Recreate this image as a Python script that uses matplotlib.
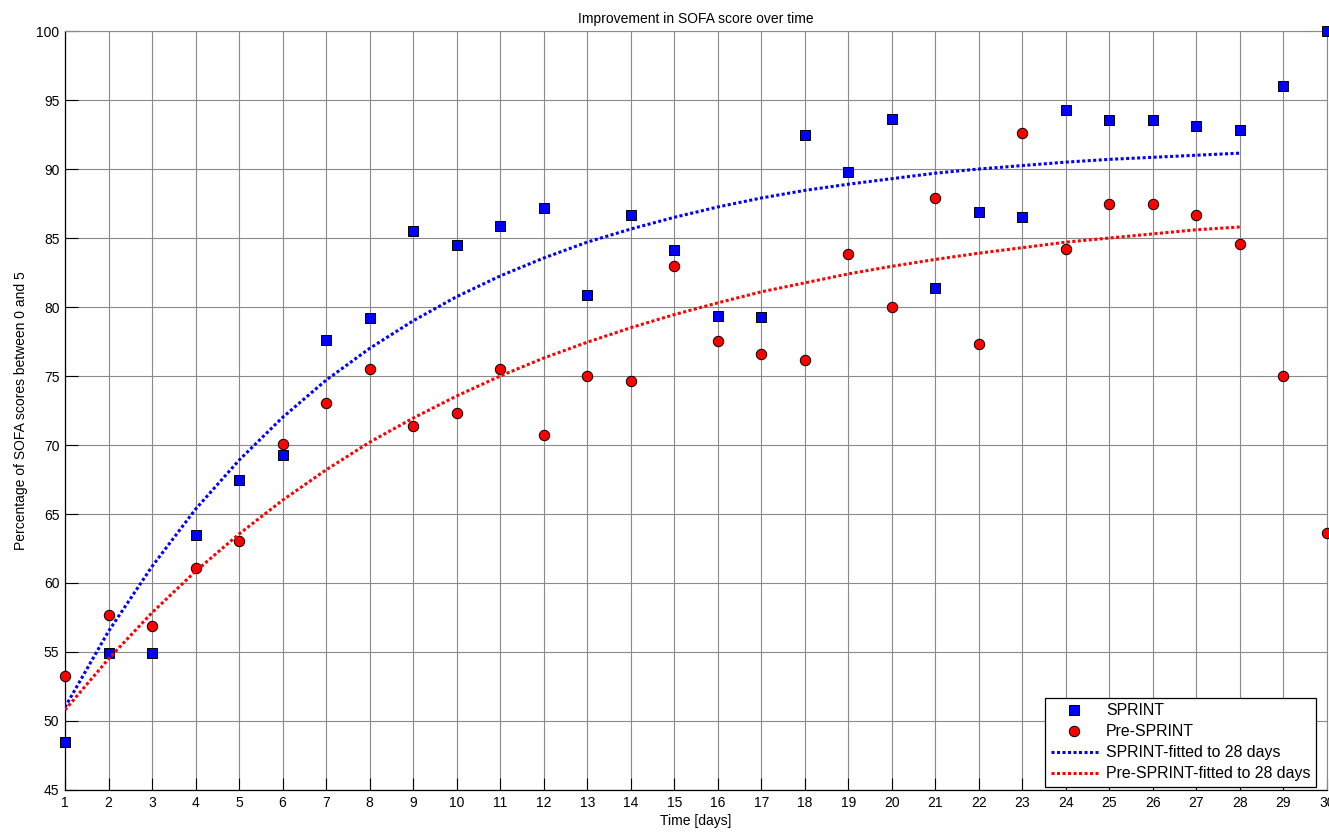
import numpy as np
import matplotlib.pyplot as plt

days = list(range(1, 31))
sprint = [48.5, 54.9, 54.9, 63.5, 67.5, 69.3, 77.6, 79.2, 85.5, 84.5,
          85.85, 87.2, 80.9, 86.7, 84.1, 79.35, 79.3, 92.5, 89.8, 93.65,
          81.4, 86.85, 86.5, 94.3, 93.55, 93.55, 93.15, 92.85, 96.0, 100.0]
pre_sprint = [53.25, 57.65, 56.85, 61.1, 63.05, 70.05, 73.05, 75.5, 71.35, 72.35,
              75.5, 70.75, 75.0, 74.65, 83.0, 77.55, 76.6, 76.15, 83.85, 80.0,
              87.9, 77.35, 92.6, 84.2, 87.5, 87.5, 86.7, 84.6, 75.0, 63.6]

# Fitted curves, days 1..28
fit_days = list(range(1, 29))
sprint_fit = [51.0, 56.5, 61.2, 65.35, 68.9, 72.0, 74.7, 77.0, 79.0, 80.75,
              82.25, 83.55, 84.7, 85.65, 86.5, 87.25, 87.9, 88.45, 88.9, 89.3,
              89.7, 90.0, 90.25, 90.5, 90.7, 90.85, 91.0, 91.15]
pre_sprint_fit = [50.8, 54.5, 57.85, 60.85, 63.55, 66.0, 68.2, 70.2, 71.95, 73.55,
                  75.0, 76.3, 77.45, 78.5, 79.45, 80.3, 81.1, 81.75, 82.4, 82.95,
                  83.45, 83.9, 84.3, 84.7, 85.0, 85.3, 85.6, 85.8]

plt.rcParams['font.family'] = ['Liberation Sans', 'DejaVu Sans']
plt.rcParams['font.size'] = 10

fig = plt.figure(figsize=(13.29, 8.32), dpi=100)
ax = fig.add_axes([0.0489, 0.0505, 0.9496, 0.9122])

ax.plot(days, sprint, 's', color='blue', markersize=7.5, markeredgecolor='black',
        markeredgewidth=0.7, label='SPRINT', zorder=3, clip_on=False)
ax.plot(days, pre_sprint, 'o', color='red', markersize=7.5, markeredgecolor='black',
        markeredgewidth=0.7, label='Pre-SPRINT', zorder=3, clip_on=False)
ax.plot(fit_days, sprint_fit, color='blue', linewidth=2.2, linestyle=(0, (1, 0.8)),
        dash_capstyle='butt', label='SPRINT-fitted to 28 days', zorder=4)
ax.plot(fit_days, pre_sprint_fit, color='red', linewidth=2.2, linestyle=(0, (1, 0.8)),
        dash_capstyle='butt', label='Pre-SPRINT-fitted to 28 days', zorder=4)

ax.set_xlim(1, 30)
ax.set_ylim(45, 100)
ax.set_xticks(days)
ax.set_yticks(np.arange(45, 101, 5))
ax.grid(True, color='#8a8a8a', linewidth=0.8)
ax.set_axisbelow(True)

ax.tick_params(direction='in', length=9, width=0.8, top=False, right=False, pad=4)
for side in ['top', 'right']:
    ax.spines[side].set_color('#8a8a8a')
for side in ['left', 'bottom']:
    ax.spines[side].set_linewidth(0.9)

ax.set_title('Improvement in SOFA score over time', fontsize=10, pad=6)
ax.set_xlabel('Time [days]', fontsize=10, labelpad=3)
ax.set_ylabel('Percentage of SOFA scores between 0 and 5', fontsize=10, labelpad=6)

leg = ax.legend(loc='lower right', bbox_to_anchor=(0.9902, 0.0541),
                bbox_transform=fig.transFigure, fontsize=11.4, frameon=True,
                fancybox=False, edgecolor='black', framealpha=1,
                handlelength=3.0, handletextpad=0.5, borderaxespad=0,
                labelspacing=0.38, borderpad=0.35)
leg.get_frame().set_linewidth(0.9)
leg.set_zorder(10)

fig.savefig('out.png', dpi=100)
